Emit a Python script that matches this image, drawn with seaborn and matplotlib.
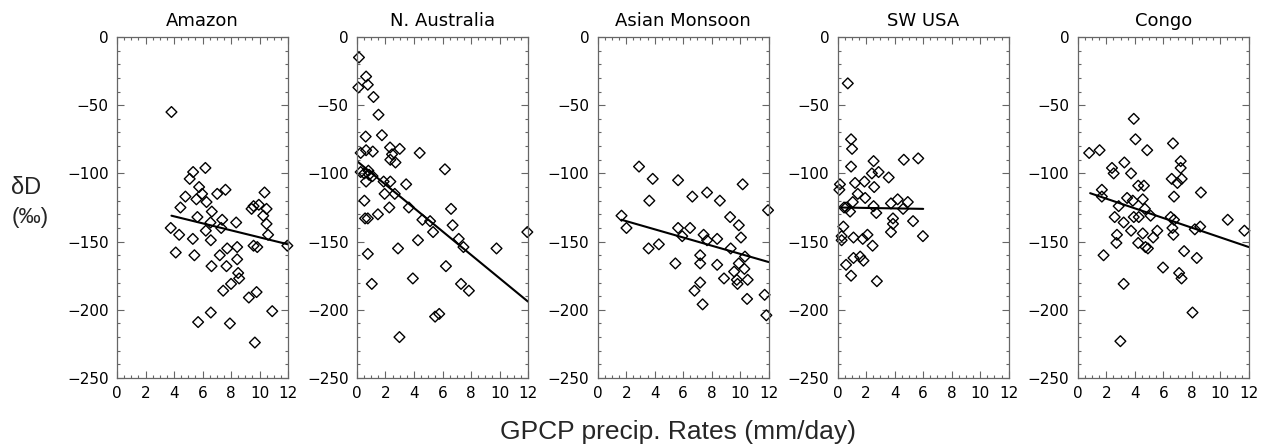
import numpy as np
import pandas as pd
import matplotlib
matplotlib.use("Agg")
import matplotlib.pyplot as plt
from matplotlib.ticker import MultipleLocator
import seaborn as sns

# Panel titles
regions = ["Amazon", "N. Australia", "Asian Monsoon", "SW USA", "Congo"]

# GPCP precip (mm/day) and dD (permil)
amazon_x = [3.82, 3.77, 4.12, 4.36, 4.45, 4.8, 5.1, 5.34, 5.32, 5.43, 5.57, 5.64, 5.69, 5.76,
            5.97, 6.2, 6.28, 6.23, 6.56, 6.65, 6.58, 6.58, 6.63, 7.03, 7.61, 7.38, 7.31, 7.21,
            7.45, 7.68, 7.73, 7.92, 8.0, 8.36, 8.43, 8.43, 8.5, 8.57, 9.25, 9.44, 9.58, 9.58,
            9.79, 9.67, 9.84, 9.95, 10.35, 10.49, 10.26, 10.49, 10.6, 10.89, 11.95]
amazon_y = [-55, -140, -158, -145, -125, -117, -104, -99, -148, -160, -119, -132, -209, -110,
            -115, -96, -121, -142, -136, -128, -149, -202, -168, -115, -112, -134, -140, -160,
            -186, -168, -155, -210, -181, -136, -154, -163, -173, -177, -191, -126, -153, -124,
            -187, -224, -154, -123, -114, -126, -131, -137, -145, -201, -153]

naus_x = [0.14, 0.1, 0.64, 0.76, 1.16, 1.51, 1.75, 0.61, 0.26, 0.64, 1.11, 2.32, 2.46, 3.0,
          2.34, 2.7, 4.4, 6.17, 0.26, 0.52, 0.8, 0.64, 0.85, 1.09, 1.87, 2.34, 1.94, 2.65,
          3.45, 0.52, 0.57, 0.76, 1.47, 2.27, 3.64, 4.59, 5.13, 5.34, 6.6, 6.71, 7.14, 7.47,
          9.79, 0.76, 2.88, 4.28, 6.24, 1.04, 3.92, 7.3, 7.85, 5.48, 5.77, 2.98, 11.95]
naus_y = [-15, -37, -29, -35, -44, -57, -72, -73, -85, -83, -84, -81, -86, -82,
          -90, -92, -85, -97, -99, -100, -98, -106, -101, -102, -106, -106, -115, -115,
          -108, -120, -133, -133, -130, -125, -125, -134, -135, -143, -126, -138, -148, -154,
          -155, -159, -155, -149, -168, -181, -177, -181, -186, -205, -203, -220, -143]

monsoon_x = [1.67, 2.02, 2.9, 3.86, 3.62, 3.57, 4.29, 5.64, 5.64, 5.93, 5.45, 6.48, 6.64, 7.67,
             6.79, 7.19, 7.19, 7.19, 7.36, 7.43, 7.67, 8.38, 8.38, 8.57, 8.86, 9.33, 9.29, 9.57,
             9.76, 9.81, 9.9, 10.05, 9.9, 10.17, 10.33, 10.29, 10.52, 10.48, 11.71, 11.83, 11.95]
monsoon_y = [-131, -140, -95, -104, -120, -155, -152, -105, -140, -146, -166, -140, -117, -114,
             -186, -160, -166, -180, -196, -145, -149, -148, -167, -120, -177, -155, -132, -172,
             -178, -181, -138, -147, -166, -108, -161, -170, -178, -192, -189, -204, -127]

swusa_x = [0.71, 0.94, 1.01, 0.94, 0.16, 0.12, 1.22, 1.88, 1.41, 1.93, 1.06, 2.52, 2.4, 2.87,
           2.56, 3.58, 4.64, 5.65, 0.59, 0.45, 0.87, 2.52, 2.71, 3.74, 4.21, 4.59, 4.92, 3.88,
           3.88, 3.74, 5.29, 5.98, 0.4, 0.28, 0.28, 1.11, 1.76, 2.09, 2.45, 0.59, 1.11, 1.58,
           1.81, 0.94, 2.75]
swusa_y = [-34, -75, -82, -95, -108, -112, -107, -106, -115, -118, -121, -91, -100, -99,
           -110, -103, -90, -89, -125, -125, -128, -124, -129, -122, -119, -126, -121, -133,
           -137, -143, -135, -146, -139, -146, -149, -147, -148, -145, -153, -167, -162, -161,
           -164, -175, -179]

congo_x = [0.8, 1.53, 1.69, 1.69, 1.81, 2.4, 2.52, 2.87, 2.59, 2.75, 2.71, 3.22, 3.27, 3.22,
           2.99, 3.46, 3.74, 3.93, 4.05, 3.74, 3.86, 3.93, 4.24, 4.24, 4.28, 4.56, 4.56, 4.64,
           4.71, 4.75, 4.87, 4.92, 5.11, 5.29, 5.58, 5.98, 6.52, 6.59, 6.68, 6.75, 6.64, 6.71,
           6.75, 6.99, 7.22, 7.22, 7.29, 7.11, 7.28, 7.46, 8.05, 8.21, 8.35, 8.59, 8.64, 10.52,
           11.69]
congo_y = [-85, -83, -112, -117, -160, -96, -100, -124, -132, -145, -151, -136, -92, -181,
           -223, -118, -100, -60, -75, -142, -120, -132, -109, -151, -132, -119, -144, -109,
           -126, -154, -83, -155, -131, -147, -142, -169, -132, -104, -78, -117, -140, -145,
           -134, -107, -91, -96, -104, -173, -177, -157, -202, -141, -162, -139, -114, -134,
           -142]

# Regression lines (end points)
amazon_fit_x, amazon_fit_y = [3.82, 12.0], [-131, -152]
naus_fit_x, naus_fit_y = [0.0, 12.0], [-91, -194]
monsoon_fit_x, monsoon_fit_y = [1.67, 12.0], [-134, -165]
swusa_fit_x, swusa_fit_y = [0.2, 6.0], [-125, -126]
congo_fit_x, congo_fit_y = [0.87, 12.0], [-114.5, -154]

panels = [
    (amazon_x, amazon_y, amazon_fit_x, amazon_fit_y),
    (naus_x, naus_y, naus_fit_x, naus_fit_y),
    (monsoon_x, monsoon_y, monsoon_fit_x, monsoon_fit_y),
    (swusa_x, swusa_y, swusa_fit_x, swusa_fit_y),
    (congo_x, congo_y, congo_fit_x, congo_fit_y),
]

sns.set_style("ticks")
plt.rcParams["font.family"] = ["DejaVu Sans"]

fig = plt.figure(figsize=(12.69, 4.44), dpi=100)

lefts = [0.0922, 0.2813, 0.4710, 0.6601, 0.8493]
for i, (name, (px, py, fx, fy)) in enumerate(zip(regions, panels)):
    ax = fig.add_axes([lefts[i], 0.1486, 0.1348, 0.7681])
    df = pd.DataFrame({"precip": px, "dD": py})
    sns.scatterplot(data=df, x="precip", y="dD", ax=ax, marker="D", s=30,
                    facecolor="none", edgecolor="black", linewidth=1.0, clip_on=False)
    fit = pd.DataFrame({"precip": fx, "dD": fy})
    sns.lineplot(data=fit, x="precip", y="dD", ax=ax, color="black", linewidth=1.5)

    ax.set_xlim(0, 12)
    ax.set_ylim(-250, 0)
    ax.xaxis.set_major_locator(MultipleLocator(2))
    ax.xaxis.set_minor_locator(MultipleLocator(0.5))
    ax.yaxis.set_major_locator(MultipleLocator(50))
    ax.yaxis.set_minor_locator(MultipleLocator(10))
    ax.tick_params(which="both", direction="in", top=True, right=True,
                   color="#666666", width=0.8, labelcolor="black")
    ax.tick_params(which="major", length=5, labelsize=11, pad=6)
    ax.tick_params(which="minor", length=2.5)
    for sp in ax.spines.values():
        sp.set_color("#666666")
        sp.set_linewidth(0.9)
    ax.set_xlabel("")
    ax.set_ylabel("")
    ax.set_title(name, fontsize=13, pad=8, color="black")

fig.text(0.009, 0.563, "δD", fontsize=17, family="Liberation Sans", ha="left", va="baseline")
fig.text(0.009, 0.498, "(‰)", fontsize=16, family="Liberation Sans", ha="left", va="baseline")
fig.text(0.534, 0.011, "GPCP precip. Rates (mm/day)", fontsize=19,
         family="Liberation Sans", ha="center", va="baseline")

fig.savefig("out.png", dpi=100)
